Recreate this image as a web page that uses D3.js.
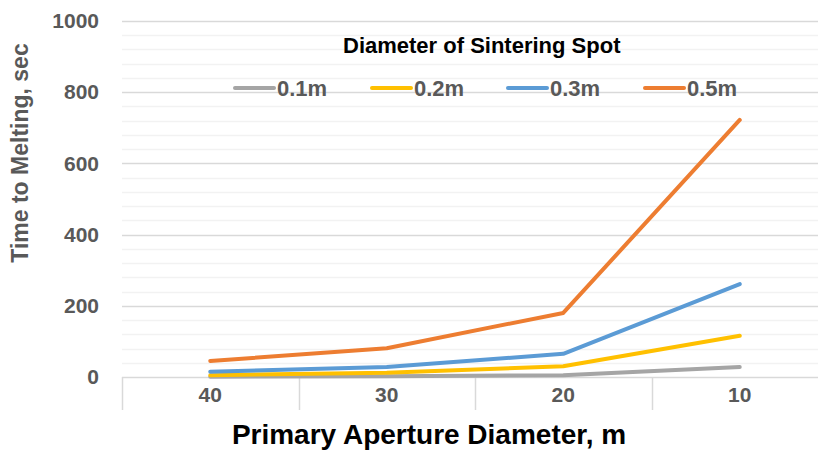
<!DOCTYPE html>
<html>
<head>
<meta charset="utf-8">
<script src="https://cdn.jsdelivr.net/npm/d3@7"></script>
<style>
  body { margin: 0; background: #fff; }
  svg { display: block; font-family: "Liberation Sans", Arial, sans-serif; }
</style>
</head>
<body>
<div id="chart"></div>
<script>
var categories = ["40", "30", "20", "10"];
var seriesNames = ["0.1m", "0.2m", "0.3m", "0.5m"];
var seriesColors = ["#a5a5a5", "#ffc000", "#5b9bd5", "#ed7d31"];
var values01 = [1, 2, 5, 28];
var values02 = [5, 12, 30, 116];
var values03 = [15, 28, 65, 261];
var values05 = [45, 81, 180, 722];
var yTicks = [0, 200, 400, 600, 800, 1000];

var allValues = [values01, values02, values03, values05];

var width = 818;
var height = 450;
var margin = {top: 21, left: 122, right: -10, bottom: 73};

var svg = d3.select("#chart")
  .append("svg")
  .attr("width", width)
  .attr("height", height);

var xScale = d3.scaleBand()
  .domain(categories)
  .range([margin.left, width - margin.right]);

var yScale = d3.scaleLinear()
  .domain([0, 1000])
  .range([height - margin.bottom, margin.top]);

// minor gridlines
svg.append("g")
  .selectAll("line")
  .data(d3.range(40, 1000, 40).filter(function(d) { return d % 200 != 0; }))
  .enter()
  .append("line")
    .attr("x1", margin.left)
    .attr("x2", width)
    .attr("y1", function(d) { return Math.round(yScale(d)) + 0.5; })
    .attr("y2", function(d) { return Math.round(yScale(d)) + 0.5; })
    .attr("stroke", "#f2f2f2")
    .attr("stroke-width", 1.5);

// major gridlines
svg.append("g")
  .selectAll("line")
  .data(yTicks)
  .enter()
  .append("line")
    .attr("x1", margin.left)
    .attr("x2", width)
    .attr("y1", function(d) { return Math.round(yScale(d)) + 0.5; })
    .attr("y2", function(d) { return Math.round(yScale(d)) + 0.5; })
    .attr("stroke", "#d9d9d9")
    .attr("stroke-width", 1.5);

// y axis labels
var yAxis = svg.append("g")
  .attr("transform", `translate(${margin.left},0)`)
  .call(d3.axisLeft(yScale).tickValues(yTicks).tickFormat(d3.format("d")).tickSize(0).tickPadding(23));
yAxis.select(".domain").remove();
yAxis.selectAll("text")
  .attr("font-family", "Liberation Sans, Arial, sans-serif")
  .attr("font-size", 21)
  .attr("font-weight", "bold")
  .attr("fill", "#595959");

// x axis with category dividers
var xAxis = svg.append("g")
  .attr("transform", `translate(0,${yScale(0)})`)
  .call(d3.axisBottom(xScale).tickSize(0).tickPadding(10));
xAxis.select(".domain").remove();
xAxis.selectAll("text")
  .attr("font-family", "Liberation Sans, Arial, sans-serif")
  .attr("font-size", 21)
  .attr("font-weight", "bold")
  .attr("fill", "#595959");

svg.append("g")
  .selectAll("line")
  .data(categories)
  .enter()
  .append("line")
    .attr("x1", function(d) { return Math.round(xScale(d)) + 0.5; })
    .attr("x2", function(d) { return Math.round(xScale(d)) + 0.5; })
    .attr("y1", yScale(0))
    .attr("y2", yScale(0) + 33)
    .attr("stroke", "#d9d9d9")
    .attr("stroke-width", 1.5);

// lines
var line = d3.line()
  .x(function(d, i) { return xScale(categories[i]) + xScale.bandwidth() / 2; })
  .y(function(d) { return yScale(d); });

svg.append("g")
  .selectAll("path")
  .data(allValues)
  .enter()
  .append("path")
    .attr("d", function(d) { return line(d); })
    .attr("fill", "none")
    .attr("stroke", function(d, i) { return seriesColors[i]; })
    .attr("stroke-width", 4)
    .attr("stroke-linecap", "round")
    .attr("stroke-linejoin", "round");

// legend
svg.append("text")
  .attr("x", 343)
  .attr("y", 53)
  .attr("font-size", 22)
  .attr("font-weight", "bold")
  .attr("fill", "#000")
  .text("Diameter of Sintering Spot");

var legendX = [233, 370, 506, 643];
var legend = svg.append("g")
  .selectAll("g")
  .data(seriesNames)
  .enter()
  .append("g")
    .attr("transform", function(d, i) { return `translate(${legendX[i]},88)`; });

legend.append("line")
  .attr("x1", 2)
  .attr("x2", 41)
  .attr("stroke", function(d, i) { return seriesColors[i]; })
  .attr("stroke-width", 4)
  .attr("stroke-linecap", "round");

legend.append("text")
  .attr("x", 44)
  .attr("y", 8)
  .attr("font-size", 22)
  .attr("font-weight", "bold")
  .attr("fill", "#595959")
  .text(function(d) { return d; });

// axis titles
svg.append("text")
  .attr("x", 429)
  .attr("y", 444)
  .attr("text-anchor", "middle")
  .attr("font-size", 28)
  .attr("font-weight", "bold")
  .attr("fill", "#000")
  .text("Primary Aperture Diameter, m");

svg.append("text")
  .attr("transform", "translate(28,153) rotate(-90)")
  .attr("text-anchor", "middle")
  .attr("font-size", 23)
  .attr("font-weight", "bold")
  .attr("fill", "#595959")
  .text("Time to Melting, sec");
</script>
</body>
</html>
